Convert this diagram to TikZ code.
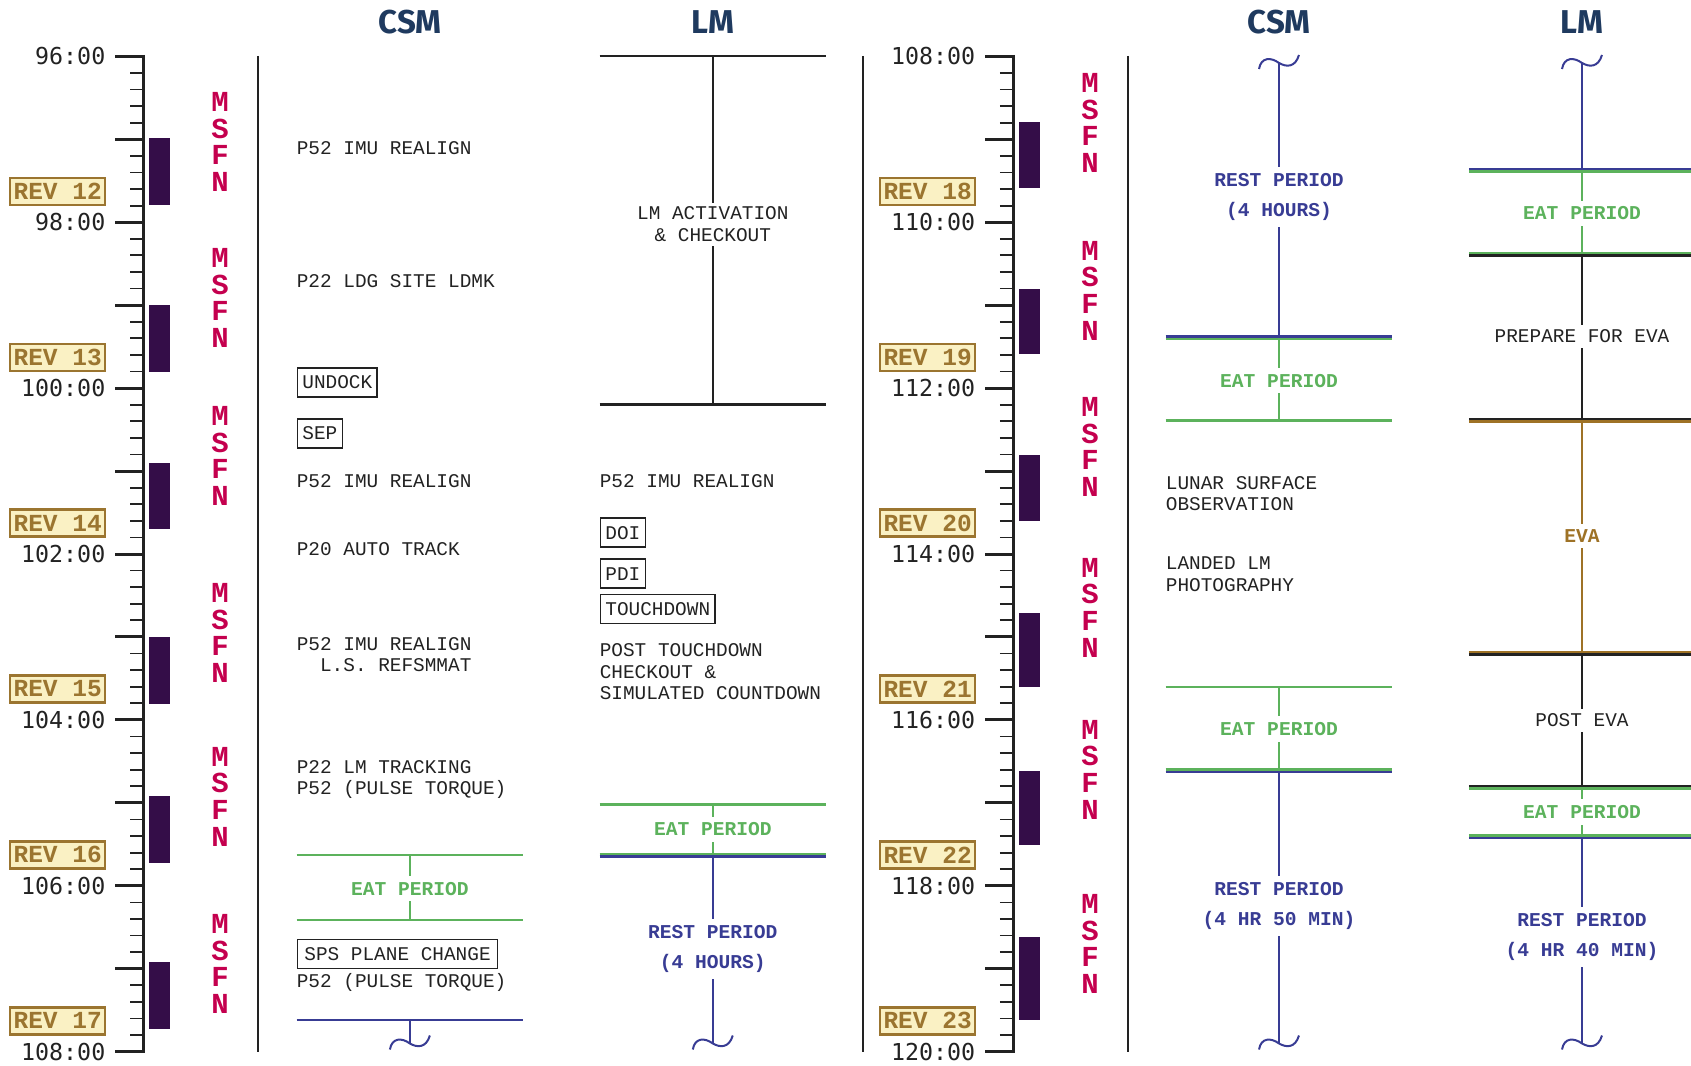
\documentclass[tikz,border=0pt]{standalone}
\usepackage{fontspec}
\setmainfont{Liberation Mono}
\newfontfamily\clockfont{DejaVu Sans Mono}
\newfontfamily\headfont{Fira Sans}
\usetikzlibrary{calc}
\definecolor{headblue}{RGB}{31,58,95}
\definecolor{msfnred}{RGB}{196,0,78}
\definecolor{revfill}{RGB}{250,241,196}
\definecolor{revbrown}{RGB}{155,117,48}
\definecolor{barpurple}{RGB}{52,13,72}
\definecolor{eatgreen}{RGB}{92,178,92}
\definecolor{restblue}{RGB}{56,60,148}
\definecolor{evabrown}{RGB}{158,114,38}
\definecolor{inkgray}{RGB}{34,34,34}

\begin{document}
\begin{tikzpicture}[x=1pt,y=-1pt,
    txt/.style={font=\fontsize{19.4}{21.6}\selectfont,text=inkgray,inner sep=0pt,align=left,anchor=west},
    gapnote/.style={txt,anchor=center,align=center,fill=white,inner xsep=2pt,inner ysep=5pt},
    tag/.style={font=\fontsize{19.4}{21.6}\selectfont,text=inkgray,draw=inkgray,line width=1.6pt,inner xsep=5pt,inner ysep=0pt,minimum height=29pt,anchor=west},
    period/.style={font=\bfseries\fontsize{19.6}{30.2}\selectfont,fill=white,inner xsep=2pt,inner ysep=6pt,align=center},
    clock/.style={font=\clockfont\fontsize{23.3}{24}\selectfont,text=inkgray,inner sep=0pt,anchor=east},
    rev/.style={font=\bfseries\fontsize{24.5}{24}\selectfont,text=revbrown,fill=revfill,draw=revbrown,line width=2.4pt,minimum width=95pt,minimum height=27pt,inner sep=0pt},
    msfn/.style={font=\bfseries\fontsize{29}{26.7}\selectfont,text=msfnred,align=center,inner sep=0pt},
    head/.style={font=\headfont\bfseries\fontsize{33}{33}\selectfont,text=headblue,inner sep=0pt},
    edge/.style={line width=2.4pt},
    stem/.style={line width=2pt},
]
    \useasboundingbox (0,0) rectangle (1691,1065);

    % Headers
    \node[head] (csmA) at (409.9,21.7) {CSM};
    \node[head] (lmA) at (712.8,21.7) {LM};
    \node[head] (csmB) at (1279,21.7) {CSM};
    \node[head] (lmB) at (1582,21.7) {LM};

    % Clocks
    \foreach \cx/\hs/\rv in {143.4/96/12, 1013.3/108/18} {
        \draw[line width=3pt,inkgray] (\cx,54.8) -- (\cx,1053.2);
        \foreach \k in {0,...,60}
            \draw[line width=1.8pt,inkgray] ({\cx-13.4},{56.3+16.59*\k}) -- (\cx,{56.3+16.59*\k});
        \foreach \k in {0,...,12}
            \draw[line width=3pt,inkgray] ({\cx-28},{56.3+82.95*\k}) -- (\cx,{56.3+82.95*\k});
        \foreach \k in {0,...,6} {
            \pgfmathtruncatemacro\hh{\hs+2*\k}
            \node[clock] (t\hs-\hh) at ({\cx-37.9},{56.3+165.9*\k}) {\hh:00};
        }
        \foreach \k in {1,...,6} {
            \pgfmathtruncatemacro\rr{\rv+\k-1}
            \node[rev] (rev\rr) at ({\cx-85.7},{56.3+165.9*\k-30.9}) {REV \rr};
        }
    }

    % Tracking passes
    \foreach \ya/\yb in {138/205,305/372,463/529,637/704,796/863,962/1029}
        \fill[barpurple] (148.8,\ya) rectangle (170.4,\yb);
    \foreach \ya/\yb in {122/188,289/354,455/521,613/687,771/845,937/1020}
        \fill[barpurple] (1019.3,\ya) rectangle (1040.3,\yb);
    \foreach \y [count=\i] in {142,298,456,633,796.5,964}
        \node[msfn] (msfnL\i) at (220,\y) {M\\S\\F\\N};
    \foreach \y [count=\i] in {123,290.5,447,607.5,769.5,944}
        \node[msfn] (msfnR\i) at (1090,\y) {M\\S\\F\\N};

    % Column rules
    \foreach \x in {258.3,863.3,1128}
        \draw[line width=1.8pt,inkgray] (\x,56) -- (\x,1052);

    % CSM, first half
    \node[txt] (csm1) at (296.6,147.7) {P52 IMU REALIGN};
    \node[txt] (csm2) at (296.6,281.5) {P22 LDG SITE LDMK};
    \node[tag] (undock) at (296.6,382.3) {UNDOCK};
    \node[tag] (sep) at (296.6,433.5) {SEP};
    \node[txt] (csm3) at (296.6,481) {P52 IMU REALIGN};
    \node[txt] (csm4) at (296.6,548.9) {P20 AUTO TRACK};
    \node[txt] (csm5) at (296.6,654.6) {P52 IMU REALIGN\\\phantom{PP}L.S. REFSMMAT};
    \node[txt] (csm6) at (296.6,779.7) {P22 LM TRACKING\\P52 (PULSE TORQUE)};
    \draw[edge,eatgreen] (296.6,855.2) -- (523,855.2) (296.6,919.9) -- (523,919.9);
    \coordinate (eatA1) at (409.9,855.2);
    \coordinate (eatA2) at (409.9,919.9);
    \draw[stem,eatgreen] (eatA1) -- (eatA2);
    \node[period,text=eatgreen] (eatA) at (409.9,888.6) {EAT PERIOD};
    \node[tag,inner xsep=7pt] (sps) at (296.6,953.8) {SPS PLANE CHANGE};
    \node[txt] (csm7) at (296.6,982.4) {P52 (PULSE TORQUE)};
    \draw[edge,restblue] (296.6,1020.2) -- (523,1020.2);
    \coordinate (restA1) at (409.9,1020.2);
    \coordinate (cutA) at (409.9,1043.5);
    \draw[stem,restblue] (restA1) -- (cutA);

    % LM, first half
    \draw[edge,inkgray] (599.6,56.1) -- (826,56.1) (599.6,404.4) -- (826,404.4);
    \coordinate (actB1) at (712.8,56.1);
    \coordinate (actB2) at (712.8,404.4);
    \draw[stem,inkgray] (actB1) -- (actB2);
    \node[gapnote,inner ysep=4pt] (lmact) at (712.8,224.3) {LM ACTIVATION\\\& CHECKOUT};
    \node[txt] (lm1) at (599.6,481) {P52 IMU REALIGN};
    \node[tag] (doi) at (599.6,532.7) {DOI};
    \node[tag] (pdi) at (599.6,573.7) {PDI};
    \node[tag] (tdown) at (599.6,608.8) {TOUCHDOWN};
    \node[txt] (lm2) at (599.6,671.8) {POST TOUCHDOWN\\CHECKOUT \&\\SIMULATED COUNTDOWN};
    \draw[edge,restblue] (599.6,856.6) -- (826,856.6);
    \draw[edge,eatgreen] (599.6,804.5) -- (826,804.5) (599.6,854.1) -- (826,854.1);
    \coordinate (eatB1) at (712.8,804.5);
    \coordinate (eatB2) at (712.8,854.1);
    \coordinate (restB1) at (712.8,856.6);
    \coordinate (cutB) at (712.8,1043.5);
    \draw[stem,eatgreen] (eatB1) -- (eatB2);
    \draw[stem,restblue] (restB1) -- (cutB);
    \node[period,text=eatgreen] (eatB) at (712.8,829.3) {EAT PERIOD};
    \node[period,text=restblue] (restB) at (712.8,949) {REST PERIOD\\(4 HOURS)};

    % CSM, second half
    \coordinate (cutC1) at (1279,63);
    \coordinate (restC1) at (1279,336.5);
    \coordinate (eatC1) at (1279,339.1);
    \coordinate (eatC2) at (1279,420.6);
    \draw[edge,eatgreen] (1165.7,339.1) -- (1392.2,339.1) (1165.7,420.6) -- (1392.2,420.6);
    \draw[edge,restblue] (1165.7,336.5) -- (1392.2,336.5);
    \draw[stem,restblue] (cutC1) -- (restC1);
    \draw[stem,eatgreen] (eatC1) -- (eatC2);
    \node[period,text=restblue] (restC) at (1279,196.9) {REST PERIOD\\(4 HOURS)};
    \node[period,text=eatgreen] (eatC) at (1279,380.7) {EAT PERIOD};
    \node[txt] (csm8) at (1165.7,493.4) {LUNAR SURFACE\\OBSERVATION};
    \node[txt] (csm9) at (1165.7,574.3) {LANDED LM\\PHOTOGRAPHY};
    \coordinate (eatD1) at (1279,687);
    \coordinate (eatD2) at (1279,769.5);
    \coordinate (restD1) at (1279,772.1);
    \coordinate (cutC2) at (1279,1043.5);
    \draw[edge,restblue] (1165.7,772.1) -- (1392.2,772.1);
    \draw[edge,eatgreen] (1165.7,687) -- (1392.2,687) (1165.7,769.5) -- (1392.2,769.5);
    \draw[stem,eatgreen] (eatD1) -- (eatD2);
    \draw[stem,restblue] (restD1) -- (cutC2);
    \node[period,text=eatgreen] (eatD) at (1279,729) {EAT PERIOD};
    \node[period,text=restblue] (restD) at (1279,905.9) {REST PERIOD\\(4 HR 50 MIN)};

    % LM, second half
    \coordinate (cutE1) at (1582,63);
    \coordinate (e1) at (1582,169);
    \coordinate (e2) at (1582,171.6);
    \coordinate (e3) at (1582,253);
    \coordinate (e4) at (1582,255.6);
    \coordinate (e5) at (1582,419);
    \coordinate (e6) at (1582,421.6);
    \coordinate (e7) at (1582,652);
    \coordinate (e8) at (1582,654.6);
    \coordinate (e9) at (1582,786);
    \coordinate (e10) at (1582,788.6);
    \coordinate (e11) at (1582,835.5);
    \coordinate (e12) at (1582,838.1);
    \coordinate (cutE2) at (1582,1043.5);
    \foreach \y/\c in {169/restblue,171.6/eatgreen,253/eatgreen,255.6/inkgray,419/inkgray,421.6/evabrown,
                       652/evabrown,654.6/inkgray,786/inkgray,788.6/eatgreen,835.5/eatgreen,838.1/restblue}
        \draw[edge,\c] (1468.8,\y) -- (1691,\y);
    \draw[stem,restblue] (cutE1) -- (e1);
    \draw[stem,eatgreen] (e2) -- (e3);
    \draw[stem,inkgray] (e4) -- (e5);
    \draw[stem,evabrown] (e6) -- (e7);
    \draw[stem,inkgray] (e8) -- (e9);
    \draw[stem,eatgreen] (e10) -- (e11);
    \draw[stem,restblue] (e12) -- (cutE2);
    \node[period,text=eatgreen] (eatE) at (1582,213.5) {EAT PERIOD};
    \node[gapnote] (prep) at (1582,336.5) {PREPARE FOR EVA};
    \node[period,text=evabrown] (eva) at (1582,536) {EVA};
    \node[gapnote] (posteva) at (1582,720.4) {POST EVA};
    \node[period,text=eatgreen] (eatF) at (1582,812) {EAT PERIOD};
    \node[period,text=restblue] (restE) at (1582,937.1) {REST PERIOD\\(4 HR 40 MIN)};

    % Time breaks
    \foreach \wx/\wy in {409.9/1043.5,712.8/1043.5,1279/1043.5,1582/1043.5,1279/63,1582/63}
        \draw[stem,restblue] ({\wx-20},{\wy+6}) .. controls ({\wx-18},{\wy-6}) and ({\wx-8},{\wy-6}) .. (\wx,\wy)
            .. controls ({\wx+7},{\wy+4}) and ({\wx+16},{\wy+5}) .. ({\wx+20},{\wy-8});
\end{tikzpicture}
\end{document}
